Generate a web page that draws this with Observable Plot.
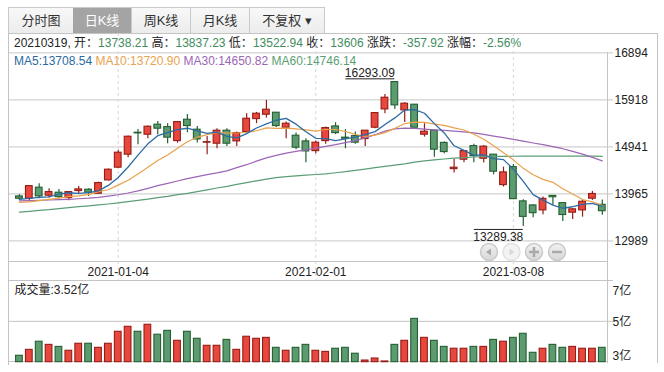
<!DOCTYPE html>
<html><head><meta charset="utf-8">
<script src="https://cdn.jsdelivr.net/npm/d3@7"></script>
<script src="https://cdn.jsdelivr.net/npm/@observablehq/plot@0.6"></script>
<style>
html,body{margin:0;padding:0;background:#fff;}
#wrap{position:relative;width:664px;height:372px;overflow:hidden;font-family:"Liberation Sans",Arial,"Noto Sans CJK SC",sans-serif;font-size:12px;color:#222;}
.abs{position:absolute;}
.tab{position:absolute;top:7px;height:25px;line-height:25px;text-align:center;font-size:13px;color:#333;background:linear-gradient(#f8f8f8,#ececec);border-top:1px solid #c9c9c9;border-bottom:1px solid #c9c9c9;border-right:1px solid #c9c9c9;}
.tab.on{background:#a4a4a4;color:#fff;}
.hl{position:absolute;height:1px;background:#c4c4c4;}
.vl{position:absolute;width:1px;background:#c4c4c4;}
.row{position:absolute;left:14px;white-space:nowrap;line-height:14px;font-size:12px;}
svg.layer{position:absolute;left:0;top:0;}
</style>
</head><body>
<div id="wrap"></div>
<script>
// ---------- data ----------
const dates = ["2020-12-18","2020-12-21","2020-12-22","2020-12-23","2020-12-24","2020-12-25","2020-12-28","2020-12-29","2020-12-30","2020-12-31",
"2021-01-04","2021-01-05","2021-01-06","2021-01-07","2021-01-08","2021-01-11","2021-01-12","2021-01-13","2021-01-14","2021-01-15",
"2021-01-18","2021-01-19","2021-01-20","2021-01-21","2021-01-22","2021-01-25","2021-01-26","2021-01-27","2021-01-28","2021-01-29",
"2021-02-01","2021-02-02","2021-02-03","2021-02-04","2021-02-05","2021-02-08","2021-02-09","2021-02-10","2021-02-18","2021-02-19",
"2021-02-22","2021-02-23","2021-02-24","2021-02-25","2021-02-26","2021-03-01","2021-03-02","2021-03-03","2021-03-04","2021-03-05",
"2021-03-08","2021-03-09","2021-03-10","2021-03-11","2021-03-12","2021-03-15","2021-03-16","2021-03-17","2021-03-18","2021-03-19"];
const open = [13913,13865,14094,13928,13990,13878,14024,14053,13969,14246,
14510,14780,15236,15195,15403,15353,15062,15506,15299,15029,
15008,15278,15056,15249,15519,15610,15652,15340,15174,15056,
14854,15062,15367,15133,15166,15104,15340,15720,16288,15700,
15818,15195,15280,15025,14480,14676,14958,14696,14780,14148,
14522,13810,13726,13623,13924,13774,13575,13623,13866,13738.21];
const close = [13865,14127,13913,14003,13899,14003,14059,13990,14190,14468,
14821,15153,15222,15361,15320,15133,15457,15374,15097,15041,
15278,15008,15228,15527,15631,15714,15374,15423,14925,14848,
15029,15332,15228,15112,15029,15278,15644,15963,15804,15839,
15340,15257,14884,14834,14509,14854,14750,14946,14426,14412,
13856,13488,13565,13862,13895.3,13526,13645,13801.78,13963.92,13606];
const high = [13949,14142,14177,14073,14059,14017,14121,14073,14210,14481,
14869,15166,15305,15374,15471,15424,15471,15617,15367,15160,
15320,15320,15249,15631,15658,15907,15658,15457,15228,15112,
15062,15353,15444,15299,15249,15284,15652,16032,16293.09,15860,
15824,15423,15284,15041,14682,14869,14994,14973,14780,14522,
14578,13845,13741,13899,13928,13774,13658,13845,14017,13837.23];
const low = [13830,13830,13865,13878,13865,13824,13955,13914,13965,14231,
14489,14717,14987,15112,15195,15008,15020,15236,15020,14780,
14904,14952,14952,15236,15423,15540,15347,15112,14883,14613,
14800,14994,15195,14904,14994,14952,15320,15631,15720,15450,
15340,15145,14724,14800,14397,14613,14613,14605,14364,14107,
13856,13289.38,13471,13533,13727,13394,13436,13483,13830,13522.94];
const volume = [3.09,3.41,3.85,3.68,3.57,3.36,3.74,3.74,3.52,3.74,
4.39,4.66,4.39,4.77,4.23,4.44,3.90,4.39,4.01,3.63,
3.63,3.95,3.41,4.12,4.01,4.06,3.52,3.36,3.52,3.68,
3.36,3.30,3.47,3.52,3.20,2.83,2.94,2.78,3.68,3.90,
5.09,4.06,3.90,3.57,3.47,3.47,3.57,3.57,3.95,3.85,
4.06,4.28,3.25,3.47,3.68,3.52,3.57,3.47,3.47,3.52];
const ma30 = [13820,13826,13832,13839,13845,13853,13864,13876,13893,13918,
13947,13984,14028,14080,14136,14183,14233,14283,14325,14364,
14401,14443,14512,14572,14647,14713,14765,14813,14848,14879,
14917,14952,14988,15029,15071,15129,15195,15268,15316,15330,
15326,15309,15295,15284,15270,15253,15232,15201,15166,15133,
15097,15060,15023,14988,14948,14904,14848,14790,14723,14650.82];
const ma60 = [13585,13602,13623,13637,13658,13681,13700,13718,13737,13756,
13777,13806,13830,13855,13888,13913,13949,13976,14011,14048,
14088,14121,14163,14200,14237,14271,14304,14325,14339,14354,
14368,14383,14404,14426,14453,14481,14510,14537,14562,14588,
14624,14651,14672,14690,14707,14719,14732,14740,14745,14746,
14747,14749,14749,14750,14751,14751,14750,14749,14748,14746.14];
// MA values on the first days (window reaches before the shown range)
const ma5Head = [13850,13872,13892,13905];
const ma10Head = [13789,13801,13824,13851,13878,13907,13924,13955,14012];
const priceTicks = [12989, 13965, 14941, 15918, 16894];
const priceDomain = [12989, 16894];
const dateTicks = ["2021-01-04","2021-02-01","2021-03-08"];
const volDomain = [2.74, 7.17];
const tabs = ["分时图","日K线","周K线","月K线","不复权 ▾"];

// ---------- styles ----------
const upFill="#e8473d", upStroke="#951c16", dnFill="#5b9b6f", dnStroke="#245f31";
const cMA5="#2d6aa3", cMA10="#eaa24c", cMA30="#9c66b6", cMA60="#5b9e74", cVal="#3f8c60";
const FONT='"Liberation Sans", Arial, "Noto Sans CJK SC", sans-serif';

const n = dates.length;
const idx = d3.range(n);
const candles = idx.map(i => ({i, o: open[i], c: close[i], h: high[i], l: low[i], v: volume[i], up: close[i] >= open[i]}));
function movingAvg(k, head){ return idx.map(i => i < k-1 ? head[i] : d3.mean(close.slice(i-k+1, i+1))); }
const ma5 = movingAvg(5, ma5Head), ma10 = movingAvg(10, ma10Head);
const last = n-1;
const chg = close[last]-close[last-1];
const pct = chg/close[last-1]*100;

const wrap = document.getElementById("wrap");
function el(tag, cls, style, html){ const e=document.createElement(tag); if(cls) e.className=cls; if(style) e.setAttribute("style",style); if(html!=null) e.innerHTML=html; wrap.appendChild(e); return e; }

// tabs
const tabEdges=[8,73,132,191,250,325];
tabs.forEach((t,k)=>{
  el("div","tab"+(k===1?" on":""),`left:${tabEdges[k]}px;width:${tabEdges[k+1]-tabEdges[k]-1}px;`+(k===0?"border-left:1px solid #c9c9c9;":""),t);
});

// frame
el("div","hl","left:8px;top:33px;width:650px;");
el("div","vl","left:8px;top:33px;height:332px;");
el("div","vl","left:657px;top:33px;height:330px;");
el("div","vl","left:607px;top:52px;height:311px;");
el("div","hl","left:8px;top:261px;width:600px;");
el("div","hl","left:8px;top:280px;width:605px;");
el("div","hl","left:8px;top:361px;width:600px;");

// header rows
const g = s => `<span style="color:${cVal}">${s}</span>`;
el("div","row","top:36px;color:#222;",
  `${dates[last].replace(/-/g,"")}, 开：${g(open[last].toFixed(2))} 高：${g(high[last].toFixed(2))} 低：${g(low[last].toFixed(2))} 收：${g(String(close[last]))} 涨跌：${g(chg.toFixed(2))} 涨幅：${g(pct.toFixed(2)+"%")}`);
el("div","row","top:54px;",
  `<span style="color:${cMA5}">MA5:${ma5[last].toFixed(2)}</span> <span style="color:${cMA10}">MA10:${ma10[last].toFixed(2)}</span> <span style="color:${cMA30}">MA30:${ma30[last].toFixed(2)}</span> <span style="color:${cMA60}">MA60:${ma60[last].toFixed(2)}</span>`);

const xScale = {domain:[0, n-1], range:[18.94, 601.8], axis:null};
const fillOf = d => d.up ? upFill : dnFill;
const strokeOf = d => d.up ? upStroke : dnStroke;
const hw = 0.34;
const hi = d3.maxIndex(high), lo = d3.minIndex(low);
const labelSpan = 4.95; // width of the extreme-value label, in trading days

const price = Plot.plot({
  width:664, height:372, marginTop:52, marginBottom:110.3, marginLeft:9, marginRight:57,
  style:{background:"transparent", overflow:"visible", fontFamily:FONT, fontSize:"12px"},
  x: xScale,
  y: {domain: priceDomain, range:[240.4, 52.4], axis:null},
  color: {type:"identity"},
  marks:[
    Plot.ruleY(priceTicks, {y:d=>d, stroke:"#c6c6c6", insetRight:-6}),
    Plot.ruleX(dateTicks, {x:d=>dates.indexOf(d), stroke:"#d6d6d6", strokeDasharray:"3,3", insetTop:-19, insetBottom:-18.3}),
    Plot.text(priceTicks, {y:d=>d, text:d=>String(d), frameAnchor:"right", textAnchor:"start", lineAnchor:"middle", dx:7, fill:"#222"}),
    Plot.text(dateTicks, {x:d=>dates.indexOf(d), text:d=>d, frameAnchor:"bottom", lineAnchor:"middle", dy:10, fill:"#222"}),
    Plot.ruleX(candles, {x:"i", y1:"l", y2:"h", stroke:strokeOf, strokeWidth:1.2}),
    Plot.rect(candles, {x1:d=>d.i-hw, x2:d=>d.i+hw, y1:"o", y2:"c", fill:fillOf, stroke:strokeOf, strokeWidth:1.1}),
    Plot.line(idx, {x:i=>i, y:i=>ma60[i], stroke:cMA60, strokeWidth:1.2}),
    Plot.line(idx, {x:i=>i, y:i=>ma30[i], stroke:cMA30, strokeWidth:1.2}),
    Plot.line(idx, {x:i=>i, y:i=>ma10[i], stroke:cMA10, strokeWidth:1.2}),
    Plot.line(idx, {x:i=>i, y:i=>ma5[i], stroke:cMA5, strokeWidth:1.3}),
    Plot.text([hi], {x:i=>i, y:i=>high[i], text:i=>high[i].toFixed(2), textAnchor:"end", lineAnchor:"bottom", dy:-5, fill:"#222"}),
    Plot.ruleY([hi], {x1:i=>i-labelSpan, x2:i=>i, y:i=>high[i], dy:-3, stroke:"#222", strokeWidth:1}),
    Plot.text([lo], {x:i=>i, y:i=>low[i], text:i=>low[i].toFixed(2), textAnchor:"end", lineAnchor:"top", dy:6, fill:"#222"}),
    Plot.ruleY([lo], {x1:i=>i-labelSpan, x2:i=>i, y:i=>low[i], dy:3, stroke:"#222", strokeWidth:1})
  ]
});
price.classList.add("layer");
wrap.appendChild(price);

const volMid = d3.mean(volDomain);
const volLbl = v => `${Math.round(v)}亿`;
const vol = Plot.plot({
  width:664, height:372, marginTop:280, marginBottom:10.3, marginLeft:9, marginRight:57,
  style:{background:"transparent", overflow:"visible", fontFamily:FONT, fontSize:"12px"},
  x: xScale,
  y: {domain: volDomain, axis:null},
  color: {type:"identity"},
  marks:[
    Plot.ruleY([volMid], {y:d=>d, stroke:"#c6c6c6", insetRight:-6}),
    Plot.rect(candles, {x1:d=>d.i-hw, x2:d=>d.i+hw, y1:volDomain[0], y2:"v", fill:fillOf, stroke:strokeOf, strokeWidth:1.1}),
    Plot.text([volDomain[1]], {y:d=>d, text:volLbl, frameAnchor:"right", textAnchor:"start", lineAnchor:"top", dx:5, dy:6, fill:"#222"}),
    Plot.text([volMid], {y:d=>d, text:volLbl, frameAnchor:"right", textAnchor:"start", lineAnchor:"middle", dx:5, dy:1, fill:"#222"}),
    Plot.text([volDomain[0]], {y:d=>d, text:volLbl, frameAnchor:"right", textAnchor:"start", lineAnchor:"bottom", dx:5, dy:-2, fill:"#222"}),
    Plot.text([`成交量:${volume[last].toFixed(2)}亿`], {text:d=>d, frameAnchor:"top-left", textAnchor:"start", lineAnchor:"top", dx:5, dy:5, fill:"#222"})
  ]
});
vol.classList.add("layer");
wrap.appendChild(vol);

// zoom / pan buttons (UI decoration)
const ns="http://www.w3.org/2000/svg";
const btn = document.createElementNS(ns,"svg");
btn.setAttribute("width","100"); btn.setAttribute("height","24");
btn.setAttribute("style","position:absolute;left:476px;top:240px;");
btn.innerHTML = `<defs><linearGradient id="bg" x1="0" y1="0" x2="0" y2="1"><stop offset="0" stop-color="#f2f2f2"/><stop offset="1" stop-color="#d6d6d6"/></linearGradient></defs>
<g stroke="#c9c9c9" stroke-width="1.5" fill="url(#bg)">
<circle cx="13" cy="12" r="8.5"/><circle cx="58" cy="12" r="8.5"/><circle cx="81" cy="12" r="8.5"/></g>
<circle cx="35.5" cy="12" r="8.5" fill="#f3f3f3" stroke="#e0e0e0" stroke-width="1.5"/>
<path d="M10 12 L15 8.5 L15 15.5 Z" fill="#a9a9a9"/>
<path d="M38.5 12 L33.5 8.5 L33.5 15.5 Z" fill="#d8d8d8"/>
<path d="M53 12 H63 M58 7 V17" stroke="#a9a9a9" stroke-width="2.4"/>
<path d="M76 12 H86" stroke="#a9a9a9" stroke-width="2.4"/>`;
wrap.appendChild(btn);
</script>
</body></html>
